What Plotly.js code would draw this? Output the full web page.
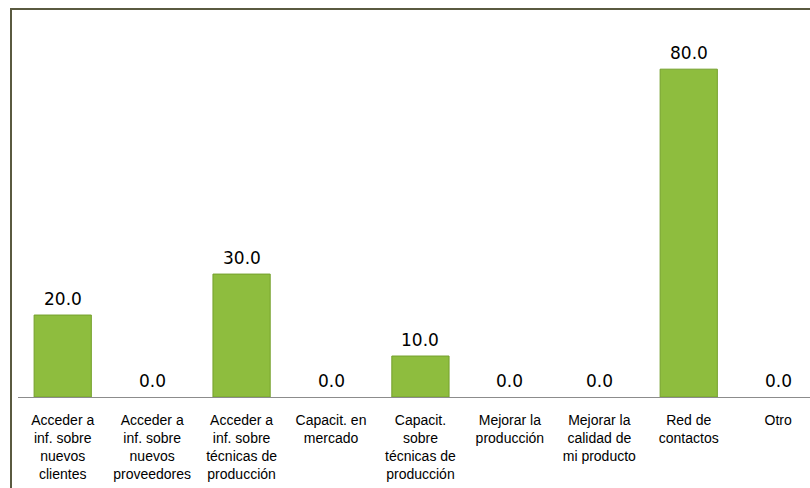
<!DOCTYPE html>
<html>
<head>
<meta charset="utf-8">
<script src="https://cdn.plot.ly/plotly-3.0.1.min.js"></script>
<style>html,body{margin:0;padding:0;background:#fff;}</style>
</head>
<body>
<div id="chart" style="width:810px;height:488px;"></div>
<script>
const categories = [
  "Acceder a<br>inf. sobre<br>nuevos<br>clientes",
  "Acceder a<br>inf. sobre<br>nuevos<br>proveedores",
  "Acceder a<br>inf. sobre<br>técnicas de<br>producción",
  "Capacit. en<br>mercado",
  "Capacit.<br>sobre<br>técnicas de<br>producción",
  "Mejorar la<br>producción",
  "Mejorar la<br>calidad de<br>mi producto",
  "Red de<br>contactos",
  "Otro"
];
const values = [20, 0, 30, 0, 10, 0, 0, 80, 0];
const valueLabels = values.map(v => v.toFixed(1));

const bars = {
  type: 'bar',
  x: categories,
  y: values,
  marker: {
    color: '#8ebd3e',
    line: {color: '#74a02c', width: values.map(v => v > 0 ? 1 : 0)}
  },
  hoverinfo: 'skip',
  showlegend: false
};

const annotations = categories.map((c, i) => ({
  x: c, y: values[i], xref: 'x', yref: 'y',
  text: valueLabels[i], showarrow: false,
  yanchor: 'bottom', yshift: 4,
  font: {family: 'DejaVu Sans', size: 17, color: '#000'}
}));

const layout = {
  width: 810, height: 488,
  margin: {l: 18, r: 0, t: 20, b: 91, pad: 0},
  paper_bgcolor: '#fff', plot_bgcolor: '#fff',
  bargap: 0.36,
  xaxis: {
    type: 'category',
    range: [-0.5, 8.356],
    showline: true, linecolor: '#8c8c8c', linewidth: 1,
    ticks: '', showgrid: false, zeroline: false,
    ticklabelstandoff: 10,
    tickfont: {family: 'Liberation Sans', size: 14, color: '#000'},
    fixedrange: true
  },
  yaxis: {
    range: [0, 92],
    visible: false, showgrid: false, zeroline: false,
    fixedrange: true
  },
  annotations: annotations,
  shapes: [{
    type: 'rect', xref: 'paper', yref: 'paper',
    x0: -7/792, x1: 1.05, y0: -0.3, y1: 1 + 11/377,
    line: {color: '#5a5a40', width: 2}, fillcolor: 'rgba(0,0,0,0)',
    layer: 'above'
  }]
};

Plotly.newPlot('chart', [bars], layout, {staticPlot: true, displayModeBar: false});
</script>
</body>
</html>
